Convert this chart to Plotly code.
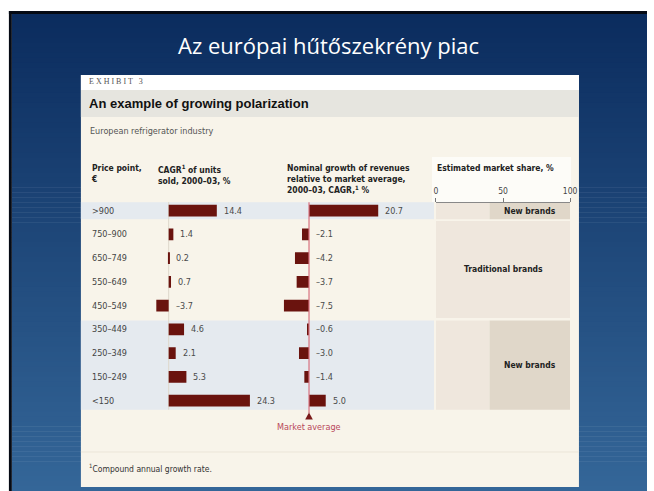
import plotly.graph_objects as go

W, H = 654, 491

# ---- data -------------------------------------------------------------
price_points = [">900", "750–900", "650–749", "550–649", "450–549",
                "350–449", "250–349", "150–249", "<150"]
cagr_units = [14.4, 1.4, 0.2, 0.7, -3.7, 4.6, 2.1, 5.3, 24.3]
rev_growth_vs_avg = [20.7, -2.1, -4.2, -3.7, -7.5, -0.6, -3.0, -1.4, 5.0]

# market-share blocks: rows covered, label, share of new brands (%)
segment_rows = [(0, 0), (1, 4), (5, 8)]
segment_labels = ["New brands", "Traditional brands", "New brands"]
new_brand_share = [60, 0, 60]
share_ticks = [0, 50, 100]

# ---- geometry helpers ---------------------------------------------------
def px(x):
    return x / W


def py(y):
    return 1 - y / H


ROW_TOP = 198.8      # pixel top of first row
ROW_H = 23.75        # pixel height of one row
N = len(price_points)
rows = list(range(N))


def axis_range(left, right, zero, scale):
    return [(left - zero) / scale, (right - zero) / scale]


SCALE = 3.39
NARROW = "Liberation Sans Narrow, DejaVu Sans Condensed, Arial Narrow, sans-serif"
BAR = "#6a130e"

# band extents (row units) for the three blocks
band_edges = [(-0.36, 0.36), (0.43, 4.52), (4.62, 8.38)]

fig = go.Figure()

# ---- bars ---------------------------------------------------------------
fig.add_trace(go.Bar(y=rows, x=cagr_units, orientation="h", width=0.5,
                     marker=dict(color=BAR, line=dict(width=0)),
                     xaxis="x", yaxis="y", hoverinfo="skip"))
fig.add_trace(go.Bar(y=rows, x=rev_growth_vs_avg, orientation="h", width=0.5,
                     marker=dict(color=BAR, line=dict(width=0)),
                     xaxis="x2", yaxis="y", hoverinfo="skip"))

# market-share blocks
centers = [(a + b) / 2 for a, b in band_edges]
widths = [b - a for a, b in band_edges]
trad = [100 - s for s in new_brand_share]
fig.add_trace(go.Bar(y=centers, x=trad, base=[0] * 3, orientation="h",
                     width=widths, marker=dict(color="#efe7dd", line=dict(width=0)),
                     xaxis="x3", yaxis="y", hoverinfo="skip"))
fig.add_trace(go.Bar(y=centers, x=new_brand_share, base=trad, orientation="h",
                     width=widths, marker=dict(color="#e0d7c9", line=dict(width=0)),
                     xaxis="x3", yaxis="y", hoverinfo="skip"))

# ---- background shapes ----------------------------------------------------
shapes = []
top_c = (11, 44, 94)
bot_c = (52, 102, 152)
n_strip = 96
y0, y1 = 13.0, 491.0
for i in range(n_strip):
    t = i / (n_strip - 1)
    c = tuple(round(top_c[k] + (bot_c[k] - top_c[k]) * t) for k in range(3))
    a = y0 + (y1 - y0) * i / n_strip
    b = y0 + (y1 - y0) * (i + 1) / n_strip + 0.6
    shapes.append(dict(type="rect", xref="paper", yref="paper",
                       x0=px(10), x1=1, y0=py(min(b, H)), y1=py(a),
                       fillcolor="rgb(%d,%d,%d)" % c, line=dict(width=0),
                       layer="below"))
# dark frame edges
shapes.append(dict(type="rect", xref="paper", yref="paper", x0=px(7), x1=1,
                   y0=py(14), y1=py(11), fillcolor="#050a14", line=dict(width=0),
                   layer="below"))
shapes.append(dict(type="rect", xref="paper", yref="paper", x0=px(7), x1=px(10),
                   y0=0, y1=py(11), fillcolor="#050a14", line=dict(width=0),
                   layer="below"))

# exhibit panel
PL, PR = 80, 585
shapes.append(dict(type="rect", xref="paper", yref="paper", x0=px(PL), x1=px(PR),
                   y0=py(487), y1=py(75), fillcolor="#f8f4ea", line=dict(width=0),
                   layer="below"))
shapes.append(dict(type="rect", xref="paper", yref="paper", x0=px(PL), x1=px(PR),
                   y0=py(90), y1=py(75), fillcolor="#ffffff", line=dict(width=0),
                   layer="below"))
shapes.append(dict(type="rect", xref="paper", yref="paper", x0=px(PL), x1=px(PR),
                   y0=py(117), y1=py(90), fillcolor="#e6e5df", line=dict(width=0),
                   layer="below"))
# white box behind market-share header
shapes.append(dict(type="rect", xref="paper", yref="paper", x0=px(436), x1=px(577),
                   y0=py(202), y1=py(157), fillcolor="#fdfcf8", line=dict(width=0),
                   layer="below"))
# footnote separator
shapes.append(dict(type="line", xref="paper", yref="paper", x0=px(PL), x1=px(PR),
                   y0=py(452), y1=py(452), line=dict(color="#ebe5d8", width=1),
                   layer="below"))


def edge_px(v):
    return ROW_TOP + (v + 0.5) * ROW_H


# light blue row bands for the new-brand blocks
for (lo, hi), s in zip(band_edges, new_brand_share):
    if s > 0:
        shapes.append(dict(type="rect", xref="paper", yref="paper",
                           x0=px(PL), x1=px(438),
                           y0=py(edge_px(hi)), y1=py(edge_px(lo)),
                           fillcolor="#e5eaef", line=dict(width=0), layer="below"))

# zero line of the units chart
shapes.append(dict(type="line", xref="x", yref="paper", x0=0, x1=0,
                   y0=py(edge_px(8.38)), y1=py(edge_px(-0.36)),
                   line=dict(color="#ddd7ca", width=1), layer="below"))
# market-average line and marker
shapes.append(dict(type="line", xref="x2", yref="paper", x0=0, x1=0,
                   y0=py(413), y1=py(edge_px(-0.36)),
                   line=dict(color="#d8717f", width=1.2), layer="above"))
shapes.append(dict(type="path", xref="x2", yref="paper",
                   path="M -1.15,%f L 1.15,%f L 0,%f Z" % (py(419.5), py(419.5), py(412.5)),
                   fillcolor="#7a1a1a", line=dict(width=0), layer="above"))

# ---- annotations ---------------------------------------------------------
ann = []


def text(x, y, s, size=9, color="#333", family=NARROW, xanchor="left",
         yanchor="middle", **kw):
    ann.append(dict(x=x, y=y, xref=kw.pop("xref", "paper"), yref=kw.pop("yref", "paper"),
                    text=s, showarrow=False, xanchor=xanchor, yanchor=yanchor,
                    align=kw.pop("align", "left"),
                    font=dict(size=size, color=color, family=family), **kw))


text(px(331), py(45), "Az európai hűtőszekrény piac", size=22, color="#ffffff",
     family="Open Sans, DejaVu Sans, sans-serif", xanchor="center")
text(px(86), py(81.5), "E X H I B I T   3", size=8, color="#555",
     family="Liberation Serif, serif")
text(px(86), py(103.5), "<b>An example of growing polarization</b>", size=13,
     color="#111", family="Liberation Sans, Arial, sans-serif")
text(px(87), py(131), "European refrigerator industry", size=9, color="#555")

text(px(88), py(161), "<b>Price point,<br>€</b>", size=8.5, color="#222", yanchor="top")
text(px(156), py(161), "<b>CAGR<sup>1</sup> of units<br>sold, 2000–03, %</b>",
     size=8.5, color="#222", yanchor="top")
text(px(287), py(161),
     "<b>Nominal growth of revenues<br>relative to market average,<br>2000–03, CAGR,<sup>1</sup> %</b>",
     size=8.5, color="#222", yanchor="top")
text(px(439), py(161), "<b>Estimated market share, %</b>", size=8.5, color="#222",
     yanchor="top")

for r, lab in zip(rows, price_points):
    text(px(89), r, lab, size=9, color="#444", yref="y")


def fmt(v):
    return ("%.1f" % v).replace("-", "–")


for r, v in zip(rows, cagr_units):
    text(max(v, 0), r, fmt(v), size=9, color="#4a4a4a", xref="x", yref="y", xshift=5)
for r, v in zip(rows, rev_growth_vs_avg):
    text(max(v, 0), r, fmt(v), size=9, color="#4a4a4a", xref="x2", yref="y", xshift=5)

for c, lab, s in zip(centers, segment_labels, new_brand_share):
    mid = (100 - s) + s / 2 if s > 0 else 50
    text(mid, c, "<b>%s</b>" % lab, size=8.5, color="#222", xref="x3", yref="y",
         xanchor="center")

text(0, py(427), "Market average", size=9, color="#b8485a", xref="x2",
     xanchor="center")
text(px(86), py(468), "<sup>1</sup>Compound annual growth rate.", size=8.5,
     color="#333")

# ---- layout ------------------------------------------------------------
y_dom = [py(ROW_TOP + N * ROW_H), py(ROW_TOP)]
fig.update_layout(
    width=W, height=H, margin=dict(l=0, r=0, t=0, b=0),
    paper_bgcolor="#ffffff", plot_bgcolor="rgba(0,0,0,0)",
    showlegend=False, barmode="overlay",
    shapes=shapes, annotations=ann,
    yaxis=dict(domain=y_dom, range=[N - 0.5, -0.5], visible=False, fixedrange=True),
    xaxis=dict(domain=[px(150), px(282)], range=axis_range(150, 282, 169, SCALE),
               visible=False, anchor="y"),
    xaxis2=dict(domain=[px(282), px(432)], range=axis_range(282, 432, 311.3, SCALE),
                visible=False, anchor="y"),
    xaxis3=dict(domain=[px(440), px(576)], range=[0, 100], side="top",
                anchor="free", position=py(201.5), tickvals=share_ticks,
                ticks="outside", ticklen=4, tickcolor="#777", showline=True,
                linecolor="#888", linewidth=1, showgrid=False, zeroline=False,
                tickfont=dict(size=8.5, color="#444", family=NARROW)),
)

fig.write_html("out.html")
